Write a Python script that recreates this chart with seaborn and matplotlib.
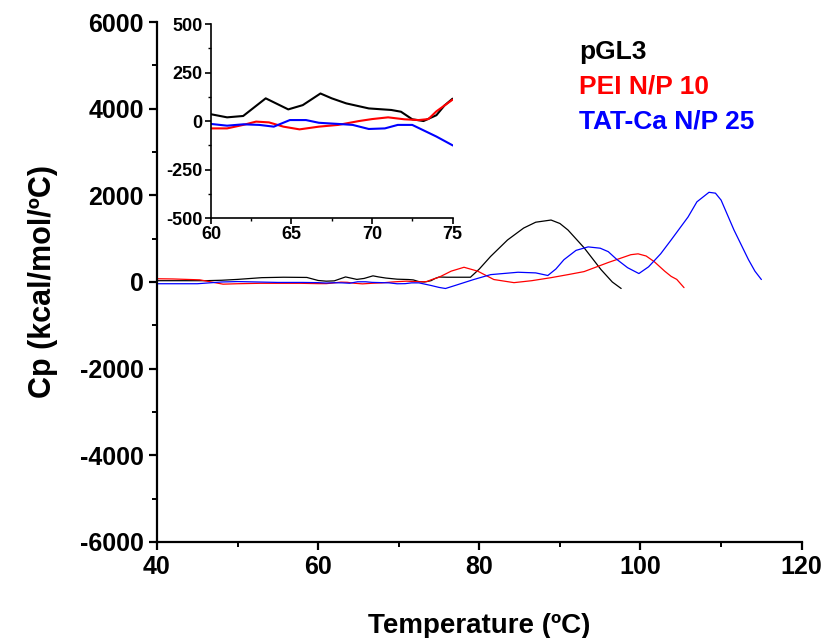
import numpy as np
import pandas as pd
import seaborn as sns
import matplotlib.pyplot as plt
from matplotlib.ticker import MultipleLocator

# pGL3
t_pgl3 = [40, 43, 46, 48, 50, 53, 55.7, 58.6, 60, 61, 62, 63.4, 64.8, 65.7, 66.8, 67.5,
          68.4, 69.8, 71.2, 71.8, 72.5, 73.2, 74, 74.5, 75, 76, 77, 78.9, 80, 81.4,
          83.5, 85.5, 87, 88.9, 90, 91, 93, 95.1, 96.5, 97.6]
cp_pgl3 = [30, 30, 30, 40, 60, 100, 110, 105, 35, 19, 26, 117, 60, 82, 142, 117,
           91, 65, 57, 48, 9, 0, 30, 80, 115, 110, 110, 110, 300, 590,
           970, 1245, 1380, 1430, 1350, 1200, 790, 286, 0, -150]

# PEI N/P 10
t_pei = [40, 42, 45.3, 48.2, 50, 52.8, 55, 57.8, 60, 61, 62, 62.8, 63.6, 64.5, 65.5,
         66.7, 67.9, 69.2, 70, 71, 72, 72.9, 73.5, 74, 75, 76.5, 78.1, 79.8, 81.8,
         84.3, 86.5, 88.9, 91, 93, 96, 98.8, 99.7, 100.7, 101.7, 103, 103.8, 104.5, 105.4]
cp_pei = [75, 70, 50, -50, -40, -30, -30, -30, -38, -38, -20, -3, -7, -29, -43,
          -29, -20, 0, 10, 19, 9, 5, 10, 50, 110, 250, 340, 250, 57,
          -15, 30, 100, 170, 240, 450, 630, 650, 600, 470, 250, 130, 60, -130]

# TAT-Ca N/P 25
t_tat = [40, 45, 48, 50, 55, 58, 60, 61, 62, 63, 63.9, 64.9, 65.9, 66.7, 67.9, 68.8,
         69.8, 70.8, 71.6, 72.5, 73, 74, 75, 75.8, 77, 79.3, 81.4, 84.8, 87, 88.5,
         89.5, 90.5, 92, 93.5, 95, 96, 97, 98.4, 99.8, 101, 102.5, 103.8, 105.9,
         107, 108.5, 109.3, 110, 111.6, 113.4, 114.2, 115]
cp_tat = [-40, -40, 0, 10, -10, -10, -15, -24, -17, -20, -29, 5, 5, -9, -15, -20,
          -41, -38, -20, -20, -40, -80, -125, -150, -80, 57, 170, 225, 210, 150,
          300, 515, 730, 810, 780, 700, 530, 330, 195, 350, 650, 970, 1500,
          1850, 2070, 2050, 1890, 1200, 515, 250, 57]

labels = ['pGL3', 'PEI N/P 10', 'TAT-Ca N/P 25']
colors = ['black', 'red', 'blue']

df = pd.concat([
    pd.DataFrame({'T': t_pgl3, 'Cp': cp_pgl3, 'sample': labels[0]}),
    pd.DataFrame({'T': t_pei, 'Cp': cp_pei, 'sample': labels[1]}),
    pd.DataFrame({'T': t_tat, 'Cp': cp_tat, 'sample': labels[2]}),
], ignore_index=True)

sns.set_style('ticks')
plt.rcParams['font.family'] = ['Liberation Sans', 'DejaVu Sans']
plt.rcParams['font.weight'] = 'bold'
plt.rcParams['axes.labelweight'] = 'bold'
plt.rcParams['axes.unicode_minus'] = False
# seaborn greys the text and spines; reference is pure black
for key in ['text.color', 'axes.labelcolor', 'xtick.color', 'ytick.color', 'axes.edgecolor']:
    plt.rcParams[key] = 'black'

fig = plt.figure(figsize=(8.28, 6.38), dpi=100)
ax = fig.add_axes([0.1896, 0.1505, 0.7786, 0.815])

sns.lineplot(data=df, x='T', y='Cp', hue='sample', palette=colors, sort=False,
             estimator=None, linewidth=0.9, ax=ax, legend=False)

ax.set_xlim(40, 120)
ax.set_ylim(-6000, 6000)
ax.xaxis.set_major_locator(MultipleLocator(20))
ax.xaxis.set_minor_locator(MultipleLocator(10))
ax.yaxis.set_major_locator(MultipleLocator(2000))
ax.yaxis.set_minor_locator(MultipleLocator(1000))
ax.tick_params(which='major', direction='out', length=6, width=1.6, labelsize=18)
ax.tick_params(which='minor', direction='out', length=3.5, width=1.4)
for s in ['left', 'bottom']:
    ax.spines[s].set_linewidth(1.6)
sns.despine(ax=ax)
for lbl in ax.get_xticklabels() + ax.get_yticklabels():
    lbl.set_fontweight('bold')
ax.set_xlabel('Temperature (ºC)', fontsize=20, fontweight='bold', labelpad=24)
ax.set_ylabel('Cp (kcal/mol/ºC)', fontsize=22, fontweight='bold', labelpad=16)

# legend as coloured text
for i, (lab, c) in enumerate(zip(labels, colors)):
    ax.text(0.6546, 0.943 - i * 0.0675, lab, color=c, fontsize=19, fontweight='bold',
            transform=ax.transAxes, ha='left', va='center')

# inset
axin = fig.add_axes([0.2548, 0.6583, 0.2917, 0.304])
sns.lineplot(data=df[(df['T'] >= 59) & (df['T'] <= 76)], x='T', y='Cp', hue='sample',
             palette=colors, sort=False, estimator=None, linewidth=1.5, ax=axin, legend=False)
axin.set_xlim(60, 75)
axin.set_ylim(-500, 500)
axin.xaxis.set_major_locator(MultipleLocator(5))
axin.xaxis.set_minor_locator(MultipleLocator(2.5))
axin.yaxis.set_major_locator(MultipleLocator(250))
axin.yaxis.set_minor_locator(MultipleLocator(125))
axin.tick_params(which='major', direction='out', length=4, width=1.2, labelsize=13, pad=2)
axin.tick_params(which='minor', direction='out', length=2.5, width=1.0)
for lbl in axin.get_xticklabels() + axin.get_yticklabels():
    lbl.set_fontweight('bold')
for s in ['left', 'bottom']:
    axin.spines[s].set_linewidth(1.2)
sns.despine(ax=axin)
axin.set_xlabel('')
axin.set_ylabel('')
axin.patch.set_alpha(0)

fig.savefig('out.png', dpi=100)
